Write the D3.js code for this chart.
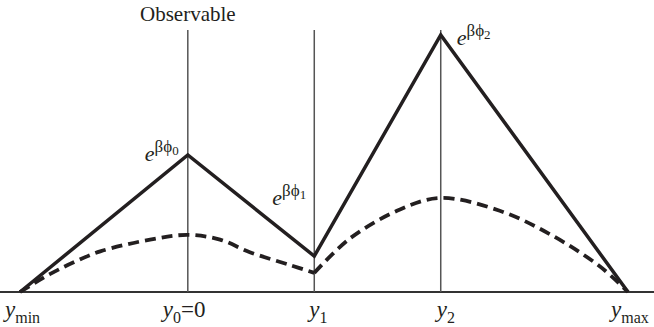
<!DOCTYPE html>
<html lang="en">
<head>
<meta charset="UTF-8">
<title>Observable</title>
<style>
  body { margin: 0; background: #fff; }
  text { font-family: "Liberation Serif", "Times New Roman", serif; fill: #231f20; }
</style>
</head>
<body>
<div id="chart"></div>
<script src="https://d3js.org/d3.v7.min.js"></script>
<script>
    // knot positions (arbitrary units along the axis)
    var knotX = [0, 27.6, 48.4, 69.2, 100];
    var knotLabels = [
        {base: "y", sub: "min", tail: ""},
        {base: "y", sub: "0", tail: "=0"},
        {base: "y", sub: "1", tail: ""},
        {base: "y", sub: "2", tail: ""},
        {base: "y", sub: "max", tail: ""}
    ];
    // solid line heights at each knot
    var solidY = [0, 0.523, 0.137, 0.981, 0];
    // dashed curve
    var dashX = [0, 4.9, 9.0, 13.2, 21.4, 27.6, 32.9, 37.8, 44.4, 48.4, 54.3, 62.5, 69.2, 78.9, 87.2, 95.4, 100];
    var dashY = [0, 0.068, 0.115, 0.155, 0.200, 0.218, 0.200, 0.152, 0.103, 0.073, 0.205, 0.315, 0.359, 0.310, 0.220, 0.097, 0];
    // vertical lines at interior knots
    var vlines = [1, 2, 3];
    var peakLabels = [{knot: 1, sub: "0"}, {knot: 2, sub: "1"}, {knot: 3, sub: "2"}];

    var W = 654, H = 327;
    var svg = d3.select("#chart").append("svg")
        .attr("width", W)
        .attr("height", H);

    var x = d3.scaleLinear().domain([0, 100]).range([20, 628]);
    var y = d3.scaleLinear().domain([0, 1]).range([292, 30]);

    // baseline
    svg.append("line")
        .attr("x1", 0).attr("x2", W)
        .attr("y1", y(0)).attr("y2", y(0))
        .attr("stroke", "#333").attr("stroke-width", 2);

    // vertical guides
    svg.selectAll(".vl").data(vlines).enter().append("line")
        .attr("x1", d => x(knotX[d])).attr("x2", d => x(knotX[d]))
        .attr("y1", y(1.0)).attr("y2", y(0))
        .attr("stroke", "#555").attr("stroke-width", 1.5);

    // dashed curve, drawn in two pieces so the dip at y1 stays sharp
    var dash = dashX.map((d, i) => [d, dashY[i]]);
    var cut = dashX.indexOf(knotX[2]);
    var curve = d3.line().x(d => x(d[0])).y(d => y(d[1])).curve(d3.curveCatmullRom);
    [dash.slice(0, cut + 1), dash.slice(cut)].forEach(seg => {
        svg.append("path")
            .attr("d", curve(seg))
            .attr("fill", "none")
            .attr("stroke", "#231f20")
            .attr("stroke-width", 3.8)
            .attr("stroke-dasharray", "11,6");
    });

    // solid polyline
    var line = d3.line().x((d, i) => x(knotX[i])).y(d => y(d));
    svg.append("path")
        .attr("d", line(solidY))
        .attr("fill", "none")
        .attr("stroke", "#231f20")
        .attr("stroke-width", 3.5)
        .attr("stroke-linejoin", "miter");

    // title over y0
    svg.append("text")
        .attr("x", x(knotX[1]))
        .attr("y", 21)
        .attr("text-anchor", "middle")
        .attr("font-size", 21)
        .text("Observable");

    // axis labels
    var labelOffsets = [-15, -25, -5, -4, -17];
    var lab = svg.selectAll(".lab").data(knotLabels).enter().append("text")
        .attr("x", (d, i) => x(knotX[i]) + labelOffsets[i])
        .attr("y", 317)
        .attr("font-size", 23);
    lab.append("tspan").attr("font-style", "italic").text(d => d.base);
    lab.append("tspan").attr("font-size", 16).attr("dy", 6).text(d => d.sub);
    lab.append("tspan").attr("dy", -6).text(d => d.tail);

    // exp labels near peaks
    var peakOffsets = [[-43, 6], [-42, -51], [16, 10]];
    var pl = svg.selectAll(".pl").data(peakLabels).enter().append("text")
        .attr("x", (d, i) => x(knotX[d.knot]) + peakOffsets[i][0])
        .attr("y", (d, i) => y(solidY[d.knot]) + peakOffsets[i][1])
        .attr("font-size", 22);
    pl.append("tspan").attr("font-style", "italic").text("e");
    pl.append("tspan").attr("font-size", 17).attr("dy", -9).text("\u03b2\u03d5");
    pl.append("tspan").attr("font-size", 13).attr("dy", 3).text(d => d.sub);
</script>
</body>
</html>
